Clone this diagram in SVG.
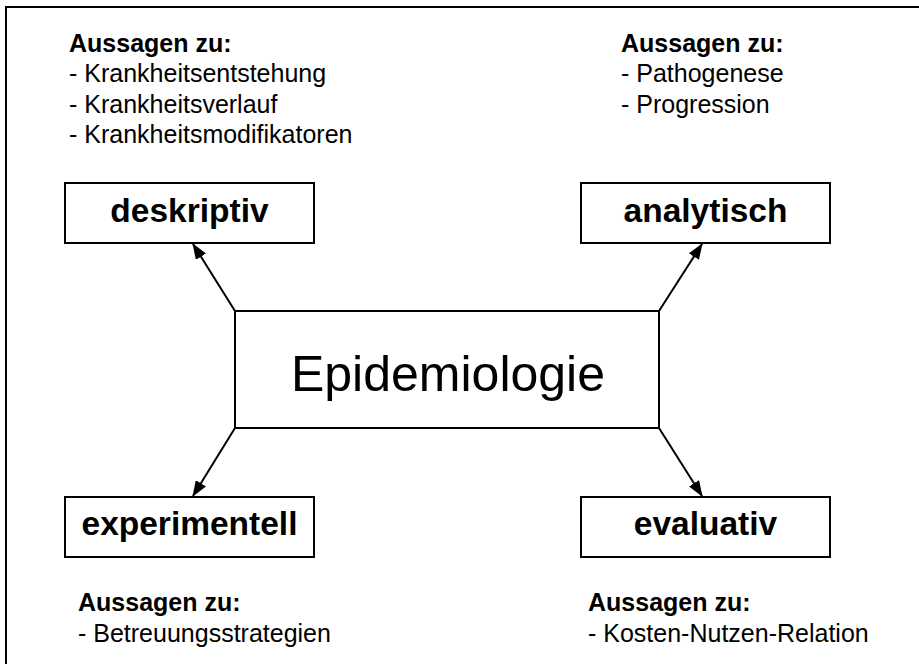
<svg xmlns="http://www.w3.org/2000/svg" width="919" height="664" viewBox="0 0 919 664">
<style>
text{font-family:"Liberation Sans",Arial,sans-serif;fill:#000}
.b{font-weight:bold}
.h{font-size:25px;font-weight:bold}
.l{font-size:25px}
.n{font-size:33.5px;font-weight:bold}
.box{fill:#fff;stroke:#000;stroke-width:2}
.c{stroke:#000;stroke-width:2;fill:none}
</style>
<defs>
<marker id="ah" viewBox="0 0 16 12" refX="15" refY="6" markerWidth="16" markerHeight="12" markerUnits="userSpaceOnUse" orient="auto">
<path d="M0,0 L16,6 L0,12 Z" fill="#000"/>
</marker>
</defs>
<rect width="919" height="664" fill="#fff"/>
<path d="M6,664 V7 H919" fill="none" stroke="#000" stroke-width="2"/>
<g id="connectors">
<line class="c" x1="235" y1="311" x2="193" y2="244" marker-end="url(#ah)"/>
<line class="c" x1="659" y1="311" x2="702" y2="244" marker-end="url(#ah)"/>
<line class="c" x1="235" y1="428" x2="193" y2="496" marker-end="url(#ah)"/>
<line class="c" x1="659" y1="428" x2="702" y2="496" marker-end="url(#ah)"/>
</g>
<g id="epidemiologie">
<rect class="box" x="235" y="311" width="424" height="117" stroke-width="1.5"/>
<text x="448" y="391" font-size="50" text-anchor="middle">Epidemiologie</text>
</g>
<g id="deskriptiv">
<rect class="box" x="65" y="183" width="249" height="60"/>
<text class="n" x="189.5" y="222" text-anchor="middle">deskriptiv</text>
</g>
<g id="analytisch">
<rect class="box" x="581" y="183" width="249" height="60"/>
<text class="n" x="705.5" y="222" text-anchor="middle">analytisch</text>
</g>
<g id="experimentell">
<rect class="box" x="65" y="497" width="249" height="60"/>
<text class="n" x="189.5" y="535" text-anchor="middle">experimentell</text>
</g>
<g id="evaluativ">
<rect class="box" x="581" y="497" width="249" height="60"/>
<text class="n" x="705.5" y="535" text-anchor="middle">evaluativ</text>
</g>
<g id="note-deskriptiv">
<text class="h" x="69" y="52">Aussagen zu:</text>
<text class="l" x="69" y="82">- Krankheitsentstehung</text>
<text class="l" x="69" y="112.5">- Krankheitsverlauf</text>
<text class="l" x="69" y="143">- Krankheitsmodifikatoren</text>
</g>
<g id="note-analytisch">
<text class="h" x="621" y="52">Aussagen zu:</text>
<text class="l" x="621" y="82">- Pathogenese</text>
<text class="l" x="621" y="112.5">- Progression</text>
</g>
<g id="note-experimentell">
<text class="h" x="78" y="611">Aussagen zu:</text>
<text class="l" x="78" y="642">- Betreuungsstrategien</text>
</g>
<g id="note-evaluativ">
<text class="h" x="588" y="611">Aussagen zu:</text>
<text class="l" x="588" y="642">- Kosten-Nutzen-Relation</text>
</g>
</svg>
